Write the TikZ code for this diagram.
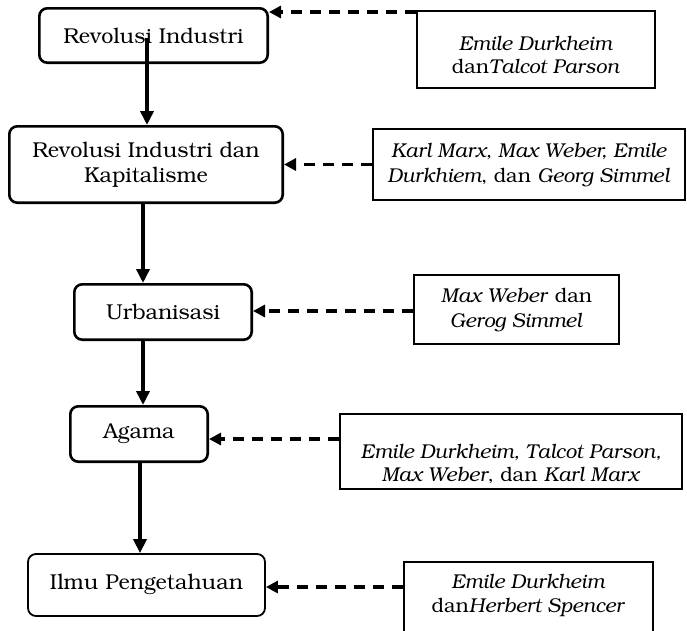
\documentclass[tikz,border=0pt]{standalone}
\usepackage[T1]{fontenc}
\usepackage{bookman}
\usetikzlibrary{arrows.meta}
\begin{document}
\begin{tikzpicture}[x=1pt,y=-1pt,
  mainbox/.style={draw, line width=2.6pt, rounded corners=8pt, inner sep=0pt, align=center, font=\fontsize{21.5}{25}\selectfont},
  srcbox/.style={draw, line width=1.6pt, inner sep=0pt, align=center, font=\fontsize{20}{25}\selectfont},
  srctext/.style={align=center, font=\fontsize{20}{22.5}\selectfont, inner sep=0pt},
  flow/.style={line width=4pt, -{Triangle[length=14pt,width=13pt]}},
  infl/.style={line width=3.6pt, dash pattern=on 11pt off 8pt, -{Triangle[length=12pt,width=12pt]}}
]
\useasboundingbox (0,0) rectangle (687,630);
\clip (0,0) rectangle (687,630);

% main boxes
\node[mainbox, minimum width=228.4pt, minimum height=54.4pt] (b1) at (153.5,35.5) {Revolusi Industri};
\node[mainbox, minimum width=273.4pt, minimum height=76.4pt] (b2) at (146,164.5) {Revolusi Industri dan\\Kapitalisme};
\node[mainbox, minimum width=177.4pt, minimum height=55.4pt] (b3) at (163,312) {Urbanisasi};
\node[mainbox, minimum width=137.4pt, minimum height=55.4pt] (b4) at (139,434) {Agama};
\node[mainbox, line width=1.8pt, minimum width=237pt, minimum height=62pt] (b5) at (146.5,585) {Ilmu Pengetahuan};

% source boxes
\node[srcbox, minimum width=238.4pt, minimum height=77.4pt,
  label={[srctext, yshift=-5.5pt]center:{\textit{Emile Durkheim}\\dan\textit{Talcot Parson}}}] (rb1) at (536,49.5) {};
\node[srcbox, minimum width=312.4pt, minimum height=71.4pt] (rb2) at (529,164.5)
  {\textit{Karl Marx, Max Weber, Emile}\\\textit{Durkhiem}, dan \textit{Georg Simmel}};
\node[srcbox, minimum width=205.4pt, minimum height=69.4pt] (rb3) at (516.5,309.5)
  {\textit{Max Weber} dan\\\textit{Gerog Simmel}};
\node[srcbox, minimum width=342.4pt, minimum height=75.4pt,
  label={[srctext, yshift=-12.5pt]center:{\textit{Emile Durkheim, Talcot Parson,}\\\textit{Max Weber}, dan \textit{Karl Marx}}}] (rb4) at (511,451.5) {};
\node[srcbox, minimum width=249.4pt, minimum height=86.4pt,
  label={[srctext, font=\fontsize{20}{24}\selectfont, yshift=10pt]center:{\textit{Emile Durkheim}\\dan\textit{Herbert Spencer}}}] (rb5) at (528.5,605) {};

% flow arrows
\draw[flow] ([xshift=-6.5pt,yshift=-2.5pt]b1.center) -- ([xshift=1pt]b2.north);
\draw[flow] ([xshift=-3pt]b2.south) -- ([xshift=-3pt]b2.south |- b3.north);
\draw[flow] ([xshift=-20pt]b3.south) -- ([xshift=-20pt]b3.south |- b4.north);
\draw[flow] ([xshift=1pt]b4.south) -- ([xshift=1pt]b4.south |- b5.north);

% influence arrows
\draw[infl] ([yshift=-2pt]rb1.north west) -- ([yshift=-2pt]rb1.north west -| b1.east);
\draw[infl] (rb2.west) -- (rb2.west -| b2.east);
\draw[infl] ([yshift=-1.5pt]rb3.west) -- ([yshift=-1.5pt]rb3.west -| b3.east);
\draw[infl] ([yshift=12.5pt]rb4.west) -- ([yshift=12.5pt]rb4.west -| b4.east);
\draw[infl] ([yshift=-26pt]rb5.north west) -- ([yshift=-26pt]rb5.north west -| b5.east);
\end{tikzpicture}
\end{document}
